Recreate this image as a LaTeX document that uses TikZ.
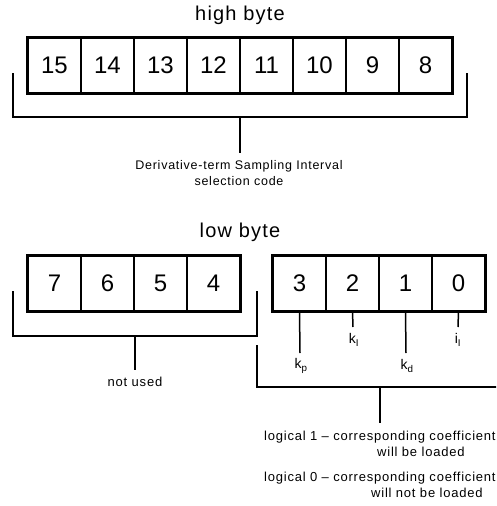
\documentclass[tikz,border=0pt]{standalone}
\usepackage{fontspec}
\setmainfont{Liberation Sans}
\newfontfamily\spaced[LetterSpace=6]{Liberation Sans}
\begin{document}
\begin{tikzpicture}[x=1pt,y=-1pt,
  cell/.style={draw, line width=1.2pt, minimum width=53pt, minimum height=55pt, inner sep=0pt, font=\fontsize{24}{24}\selectfont},
  frame/.style={line width=2.6pt},
  br/.style={line width=1.5pt},
  title/.style={font=\spaced\fontsize{20}{20}\selectfont},
  lbl/.style={font=\spaced\fontsize{13}{15}\selectfont, align=center, inner sep=0pt},
  sub/.style={font=\fontsize{14}{14}\selectfont, inner sep=0pt}]
\useasboundingbox (0,0) rectangle (496,506);
\clip (0,0) rectangle (496,506);
% high byte
\node[title] (ht) at (240,15) {high byte};
\foreach \n [count=\k from 0] in {15,14,13,12,11,10,9,8}
  \node[cell] (h\n) at (28+53*\k+26.5,65.5) {\n};
\draw[frame] (h15.north west) rectangle (h8.south east);
\coordinate (hbl) at (13,73);
\coordinate (hbr) at (467,73);
\coordinate (hbm) at (240,117);
\coordinate (dstem) at (240,153);
\draw[br] (hbl) |- (hbm) -| (hbr);
\draw[br] (hbm) -- (dstem);
\node[lbl, font=\spaced\fontsize{12.5}{16}\selectfont] (deriv) at (239,173) {Derivative-term Sampling Interval\\selection code};
% low byte
\node[title] (lt) at (240,232) {low byte};
\foreach \n [count=\k from 0] in {7,6,5,4}
  \node[cell] (l\n) at (28+53*\k+26.5,283.5) {\n};
\draw[frame] (l7.north west) rectangle (l4.south east);
\foreach \n [count=\k from 0] in {3,2,1,0}
  \node[cell] (l\n) at (273+53*\k+26.5,283.5) {\n};
\draw[frame] (l3.north west) rectangle (l0.south east);
% not used bracket
\coordinate (lbl1) at (13,291);
\coordinate (lbr1) at (257,291);
\coordinate (lbm) at (135,336);
\coordinate (nstem) at (135,370);
\draw[br] (lbl1) |- (lbm) -| (lbr1);
\draw[br] (lbm) -- (nstem);
\node[lbl] (nu) at (135,382) {not used};
% coefficient ticks
\coordinate (tp) at (300,353);
\coordinate (ti) at (353,327);
\coordinate (td) at (406,353);
\coordinate (tl) at (458,327);
\draw[br] (l3.south) -- (tp);
\draw[br] (l2.south) -- (ti);
\draw[br] (l1.south) -- (td);
\draw[br] (l0.south) -- (tl);
\node[sub] (kp) at (301,366) {k\textsubscript{p}};
\node[sub] (ki) at (354,340) {k\textsubscript{I}};
\node[sub] (kd) at (407,366) {k\textsubscript{d}};
\node[sub] (il) at (458,340) {i\textsubscript{I}};
% right bracket
\coordinate (rbt) at (257,345);
\coordinate (rbm) at (380,387);
\coordinate (rbr) at (505,387);
\coordinate (rstem) at (380,423);
\draw[br] (rbt) |- (rbr);
\draw[br] (rbm) -- (rstem);
\node[lbl, anchor=west] (log1a) at (264,437) {logical 1 \textendash{} corresponding coefficient};
\node[lbl, anchor=west] (log1b) at (377,452) {will be loaded};
\node[lbl, anchor=west] (log0a) at (264,478) {logical 0 \textendash{} corresponding coefficient};
\node[lbl, anchor=west] (log0b) at (371,493) {will not be loaded};
\end{tikzpicture}
\end{document}
